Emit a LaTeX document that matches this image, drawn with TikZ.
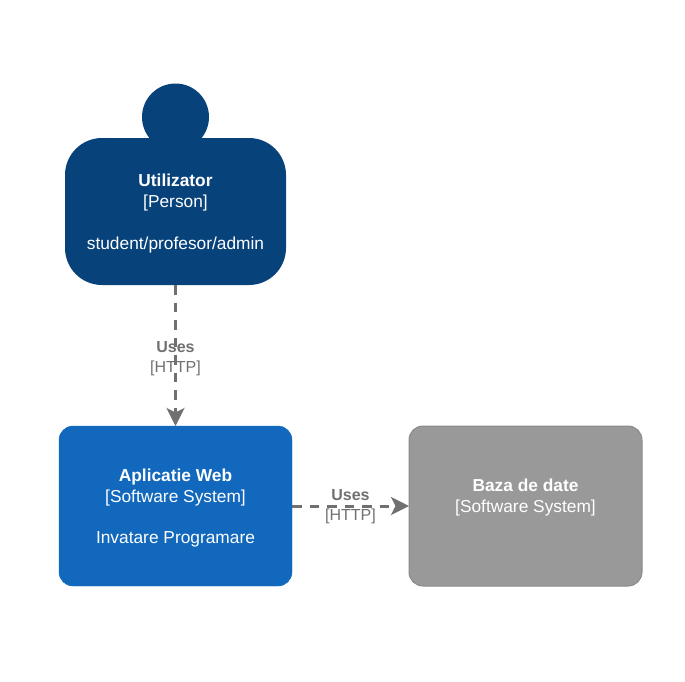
\documentclass[tikz,border=0pt]{standalone}
\usepackage{fontspec}
\setmainfont{Liberation Sans}
\usetikzlibrary{arrows.meta}
\definecolor{personblue}{HTML}{08427B}
\definecolor{systemblue}{HTML}{1168BD}
\definecolor{extgray}{HTML}{999999}
\definecolor{extline}{HTML}{8A8A8A}
\definecolor{usesgray}{HTML}{707070}
\newcommand{\toppad}{\rule{0pt}{16.5pt}}

\begin{document}
\begin{tikzpicture}[x=1pt,y=-1pt,
    boxtext/.style={text=white,align=center,font=\fontsize{17.33}{20.8}\selectfont,inner sep=0pt,outer sep=0pt},
    personbox/.style={boxtext,fill=personblue,rounded corners=37pt,minimum width=221pt,minimum height=147pt},
    systembox/.style={boxtext,fill=systemblue,draw=systemblue,rounded corners=14pt,minimum width=233pt,minimum height=160pt},
    extbox/.style={boxtext,fill=extgray,draw=extline,line width=1pt,rounded corners=14pt,minimum width=233pt,minimum height=160pt},
    usesline/.style={draw=usesgray,line width=3pt,dash pattern=on 9.5pt off 8pt,-{Stealth[length=18pt,width=18pt,inset=4.5pt]}},
    useslabel/.style={text=usesgray,align=center,font=\fontsize{16}{20}\selectfont,inner sep=0pt}]
  \useasboundingbox (0,0) rectangle (685,681);

  % Person
  \fill[personblue] (175.5,117) circle[radius=33.5];
  \node[personbox] (user) at (175.5,211.5) {\toppad\textbf{Utilizator}\\{}[Person]\\[20.8pt]student/profesor/admin};

  % Systeme
  \node[systembox] (app) at (175.5,506) {\toppad\textbf{Aplicatie Web}\\{}[Software System]\\[20.8pt]Invatare Programare};
  \node[extbox] (db) at (525.5,506) {\toppad\textbf{Baza de date}\\{}[Software System]\\[4pt]~};

  % Legaturi
  \draw[usesline] (user) -- (app) node[midway,useslabel,yshift=-3.5pt] (useshttp) {\textbf{Uses}\\{}[HTTP]};
  \draw[usesline] (app) -- (db) node[midway,useslabel,yshift=-0.5pt] (usesdb) {\textbf{Uses}\\{}[HTTP]};
\end{tikzpicture}
\end{document}
